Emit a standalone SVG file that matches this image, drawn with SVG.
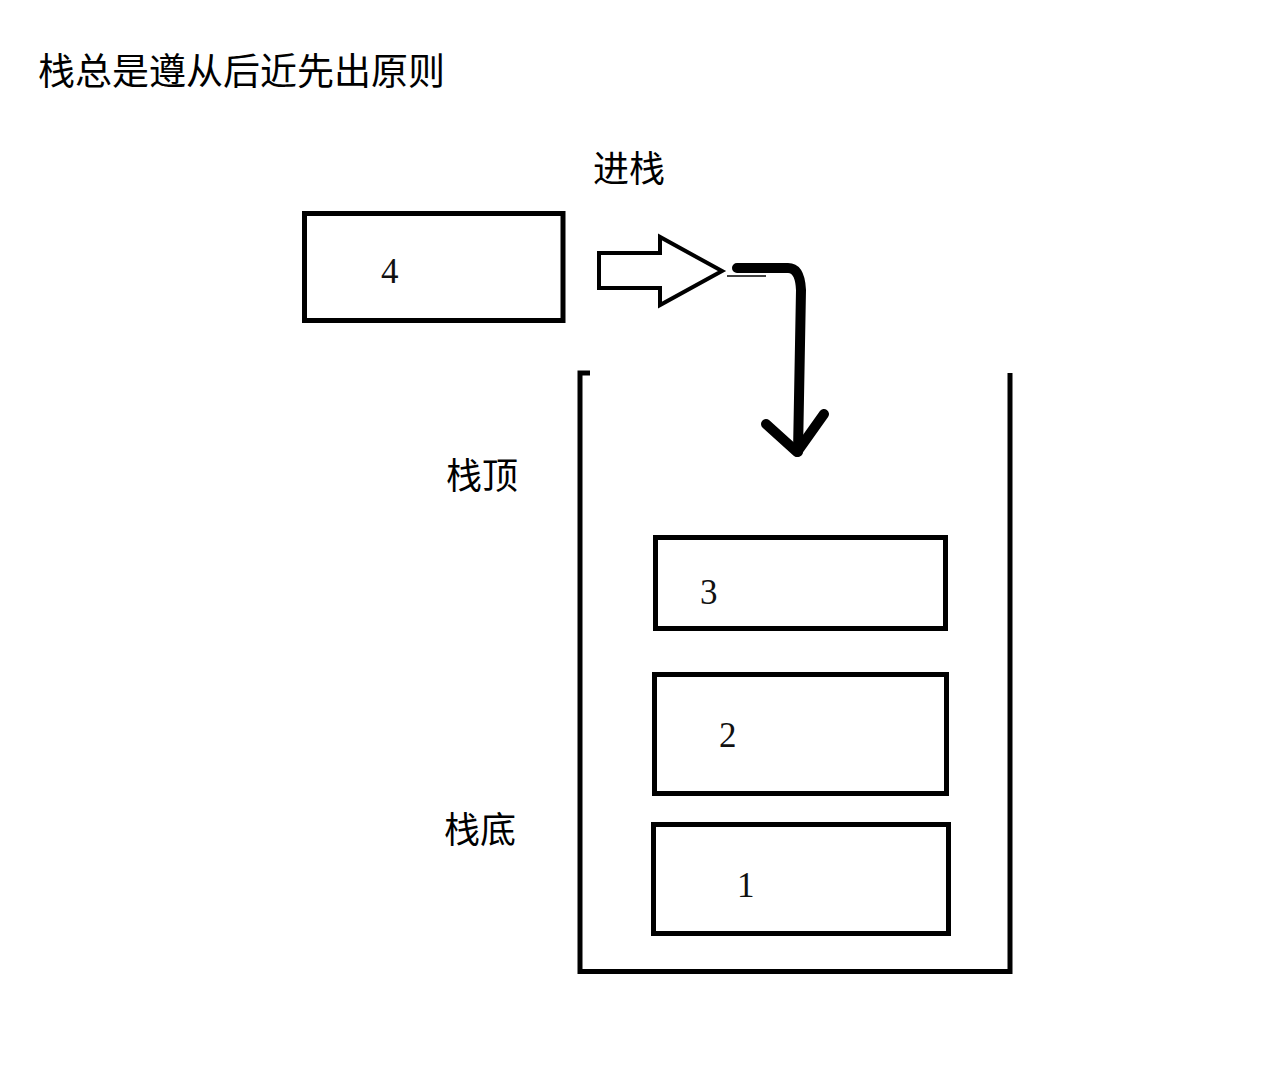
<svg xmlns="http://www.w3.org/2000/svg" width="1262" height="1074" viewBox="0 0 1262 1074">
<style>
.box{fill:none;stroke:#000;stroke-width:5}
.num{font-family:"Liberation Serif",serif;font-size:35px;fill:#111}
.cn{font-family:"Noto Sans CJK SC",sans-serif;font-size:36px;fill:#000}
.thick{fill:none;stroke:#000;stroke-width:10;stroke-linecap:round;stroke-linejoin:round}
</style>
<rect width="1262" height="1074" fill="#fff"/>
<text class="cn" x="38" y="85" style="font-size:37px">栈总是遵从后近先出原则</text>
<text class="cn" x="593" y="182">进栈</text>
<text class="cn" x="446" y="489">栈顶</text>
<text class="cn" x="444" y="843">栈底</text>
<g id="container">
<path d="M590,373 H580 V971.5 H1010 V373" fill="none" stroke="#000" stroke-width="5"/>
</g>
<g id="node4">
<rect class="box" x="304.5" y="213.5" width="258.5" height="107"/>
<text class="num" x="381" y="283">4</text>
</g>
<g id="node3">
<rect class="box" x="655.5" y="537.5" width="290" height="91"/>
<text class="num" x="700" y="604">3</text>
</g>
<g id="node2">
<rect class="box" x="654.5" y="674.5" width="292" height="119"/>
<text class="num" x="719" y="747">2</text>
</g>
<g id="node1">
<rect class="box" x="653.5" y="824.5" width="295" height="109"/>
<text class="num" x="737" y="897">1</text>
</g>
<g id="connectors">
<path d="M599,253 H660 V237 L722,271 L660,305 V288 H599 Z" fill="none" stroke="#000" stroke-width="4" stroke-linejoin="miter"/>
<line x1="727" y1="276" x2="766" y2="276" stroke="#000" stroke-width="1.5"/>
<path class="thick" d="M737,268 H788 Q800,268 801,290 L798,452"/>
<path class="thick" d="M766,424 L797,452 L824,414"/>
</g>
</svg>
